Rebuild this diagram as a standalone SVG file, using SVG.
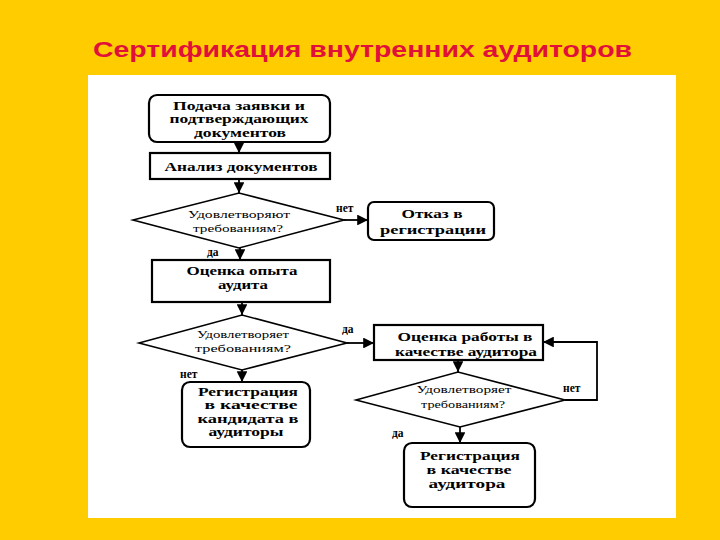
<svg xmlns="http://www.w3.org/2000/svg" width="720" height="540" viewBox="0 0 720 540">
<style>
.box{fill:#fff;stroke:#000;stroke-width:2.2}
.dia{fill:#fff;stroke:#000;stroke-width:1.6}
.bt{font-family:"Liberation Serif","DejaVu Serif",serif;font-weight:bold;font-size:13px;fill:#000;text-anchor:middle}
.sm{font-size:11.5px}
.dt{font-family:"Liberation Serif","DejaVu Serif",serif;font-size:11px;fill:#000;text-anchor:middle}
.lb{font-family:"Liberation Serif","DejaVu Serif",serif;font-weight:bold;font-size:11.5px;fill:#000}
.ln{fill:none;stroke:#000;stroke-width:1.8}
</style>
<defs>
<marker id="ah" viewBox="0 0 10 10" refX="10" refY="5" markerWidth="6" markerHeight="6" orient="auto" markerUnits="strokeWidth">
<path d="M0,0 L10,5 L0,10 z" fill="#000"/>
</marker>
</defs>
<rect width="720" height="540" fill="#FFCC00"/>
<rect x="88" y="75" width="588" height="443" fill="#fff"/>
<text x="93" y="57" font-family="'Liberation Sans',Arial,sans-serif" font-weight="bold" font-size="22" fill="#E0103A" textLength="539" lengthAdjust="spacingAndGlyphs">Сертификация внутренних аудиторов</text>

<g id="connectors">
<line class="ln" x1="239" y1="142" x2="239" y2="153" marker-end="url(#ah)"/>
<line class="ln" x1="239" y1="179" x2="239" y2="193" marker-end="url(#ah)"/>
<line class="ln" x1="344" y1="220" x2="368" y2="220" marker-end="url(#ah)"/>
<line class="ln" x1="240" y1="248" x2="240" y2="260" marker-end="url(#ah)"/>
<line class="ln" x1="242" y1="302" x2="242" y2="315" marker-end="url(#ah)"/>
<line class="ln" x1="347" y1="343" x2="374" y2="343" marker-end="url(#ah)"/>
<line class="ln" x1="242" y1="370" x2="242" y2="382" marker-end="url(#ah)"/>
<line class="ln" x1="458" y1="360" x2="458" y2="372" marker-end="url(#ah)"/>
<polyline class="ln" points="565,400 597,400 597,342 543,342" marker-end="url(#ah)"/>
<line class="ln" x1="460" y1="427" x2="460" y2="443" marker-end="url(#ah)"/>
<text class="lb" x="336" y="212">нет</text>
<text class="lb" x="207" y="256">да</text>
<text class="lb" x="342" y="333">да</text>
<text class="lb" x="180" y="378">нет</text>
<text class="lb" x="563" y="392">нет</text>
<text class="lb" x="392" y="437">да</text>
</g>

<g id="n1">
<rect class="box" x="149" y="95" width="181" height="47" rx="8"/>
<text class="bt sm" x="239" y="109.5" textLength="132" lengthAdjust="spacingAndGlyphs">Подача заявки и</text>
<text class="bt sm" x="239" y="123" textLength="139" lengthAdjust="spacingAndGlyphs">подтверждающих</text>
<text class="bt sm" x="240" y="136.5" textLength="92" lengthAdjust="spacingAndGlyphs">документов</text>
</g>
<g id="n2">
<rect class="box" x="150" y="153" width="180" height="26"/>
<text class="bt" x="241" y="171" textLength="153" lengthAdjust="spacingAndGlyphs">Анализ документов</text>
</g>
<g id="n3">
<polygon class="dia" points="133,220 239,193 344,220 239,248"/>
<text class="dt" x="239" y="218" textLength="102" lengthAdjust="spacingAndGlyphs">Удовлетворяют</text>
<text class="dt" x="238" y="232" textLength="90" lengthAdjust="spacingAndGlyphs">требованиям?</text>
</g>
<g id="n4">
<rect class="box" x="368" y="202" width="126" height="38" rx="6"/>
<text class="bt" x="432" y="218" textLength="61" lengthAdjust="spacingAndGlyphs">Отказ в</text>
<text class="bt" x="433" y="234" textLength="106" lengthAdjust="spacingAndGlyphs">регистрации</text>
</g>
<g id="n5">
<rect class="box" x="152" y="260" width="178" height="42"/>
<text class="bt" x="242" y="275" textLength="111" lengthAdjust="spacingAndGlyphs">Оценка опыта</text>
<text class="bt" x="243" y="289" textLength="50" lengthAdjust="spacingAndGlyphs">аудита</text>
</g>
<g id="n6">
<polygon class="dia" points="139,343 242,315 347,343 242,370"/>
<text class="dt" x="243" y="338" textLength="92" lengthAdjust="spacingAndGlyphs">Удовлетворяет</text>
<text class="dt" x="243" y="352" textLength="96" lengthAdjust="spacingAndGlyphs">требованиям?</text>
</g>
<g id="n7">
<rect class="box" x="374" y="325" width="169" height="35"/>
<text class="bt" x="465" y="341" textLength="135" lengthAdjust="spacingAndGlyphs">Оценка работы в</text>
<text class="bt" x="466" y="356" textLength="142" lengthAdjust="spacingAndGlyphs">качестве аудитора</text>
</g>
<g id="n8">
<polygon class="dia" points="356,400 458,372 565,400 460,427"/>
<text class="dt" x="464" y="393" textLength="95" lengthAdjust="spacingAndGlyphs">Удовлетворяет</text>
<text class="dt" x="463" y="408" textLength="84" lengthAdjust="spacingAndGlyphs">требованиям?</text>
</g>
<g id="n9">
<rect class="box" x="404" y="443" width="131" height="64" rx="8"/>
<text class="bt" x="470" y="460" textLength="100" lengthAdjust="spacingAndGlyphs">Регистрация</text>
<text class="bt" x="469" y="474" textLength="85" lengthAdjust="spacingAndGlyphs">в качестве</text>
<text class="bt" x="467" y="488" textLength="77" lengthAdjust="spacingAndGlyphs">аудитора</text>
</g>
<g id="n10">
<rect class="box" x="182" y="382" width="128" height="65" rx="8"/>
<text class="bt sm" x="248" y="395.5" textLength="100" lengthAdjust="spacingAndGlyphs">Регистрация</text>
<text class="bt sm" x="251" y="409" textLength="93" lengthAdjust="spacingAndGlyphs">в качестве</text>
<text class="bt sm" x="248" y="422.5" textLength="101" lengthAdjust="spacingAndGlyphs">кандидата в</text>
<text class="bt sm" x="246" y="436" textLength="75" lengthAdjust="spacingAndGlyphs">аудиторы</text>
</g>
</svg>
